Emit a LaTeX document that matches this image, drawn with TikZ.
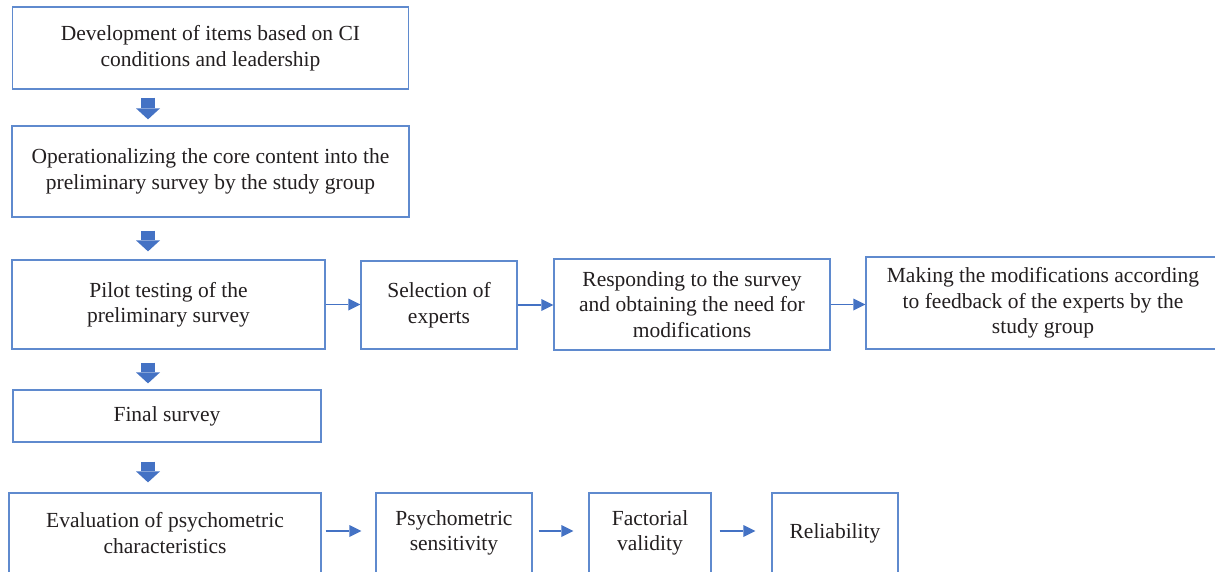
\documentclass[tikz,border=0pt]{standalone}
\usepackage{fontspec}
\setmainfont{Liberation Serif}
\usetikzlibrary{arrows.meta,calc}
\definecolor{boxblue}{RGB}{95,138,206}
\definecolor{arrblue}{RGB}{68,114,196}
\definecolor{txt}{RGB}{35,31,32}
\tikzset{
  box/.style={draw=boxblue, line width=1.3pt, rectangle, align=center, inner sep=0pt,
    text=txt, font=\fontsize{21.5}{25.5}\selectfont},
  bigarrow/.style={draw=arrblue, line width=14pt,
    -{Triangle[width=24pt,length=11pt,line width=0pt]}},
  thinarrow/.style={draw=arrblue, line width=1.5pt,
    -{Triangle[width=12pt,length=12pt,line width=0pt]}},
}
\begin{document}
\begin{tikzpicture}[x=1pt,y=-1pt]
\clip (0,0) rectangle (1215,571);
\fill[white] (0,0) rectangle (1215,571);
\coordinate (ax) at (148,0);
\node[box, minimum width=396, minimum height=82] (b1) at (210.5,48)
  {Development of items based on CI\\conditions and leadership};
\node[box, minimum width=397, minimum height=91] (b2) at (210.5,171.5)
  {Operationalizing the core content into the\\preliminary survey by the study group};
\node[box, minimum width=313, minimum height=89] (b3) at (168.5,304.5)
  {Pilot testing of the\\preliminary survey};
\node[box, minimum width=156, minimum height=88] (b4) at (439,305)
  {Selection of\\experts};
\node[box, minimum width=276, minimum height=91] (b5) at (692,304.5)
  {Responding to the survey\\and obtaining the need for\\modifications};
\node[box, minimum width=354, minimum height=92] (b6) at (1043,303)
  {Making the modifications according\\to feedback of the experts by the\\study group};
\node[box, minimum width=308, minimum height=52] (b7) at (167,416)
  {Final survey};
\node[box, minimum width=312, minimum height=80] (b8) at (165,533)
  {Evaluation of psychometric\\characteristics};
\node[box, minimum width=156, minimum height=80] (b9) at (454,533)
  {Psychometric\\sensitivity};
\node[box, minimum width=122, minimum height=80] (b10) at (650,533)
  {Factorial\\validity};
\node[box, minimum width=126, minimum height=80] (b11) at (835,533)
  {Reliability};
% block arrows
\draw[bigarrow, shorten <=8, shorten >=6] (b1.south -| ax) -- (b2.north -| ax);
\draw[bigarrow, shorten <=13, shorten >=8] (b2.south -| ax) -- (b3.north -| ax);
\draw[bigarrow, shorten <=13, shorten >=6] (b3.south -| ax) -- (b7.north -| ax);
\draw[bigarrow, shorten <=19, shorten >=10] (b7.south -| ax) -- (b8.north -| ax);
% thin arrows
\draw[thinarrow] (b3.east) -- (b3.east -| b4.west);
\draw[thinarrow] (b4.east) -- (b4.east -| b5.west);
\draw[thinarrow] (b5.east) -- (b5.east -| b6.west);
\draw[thinarrow, shorten <=4, shorten >=14] ([yshift=2pt]b8.east) -- ([yshift=2pt]b8.east -| b9.west);
\draw[thinarrow, shorten <=6, shorten >=15] ([yshift=2pt]b9.east) -- ([yshift=2pt]b9.east -| b10.west);
\draw[thinarrow, shorten <=8, shorten >=16] ([yshift=2pt]b10.east) -- ([yshift=2pt]b10.east -| b11.west);
\end{tikzpicture}
\end{document}
